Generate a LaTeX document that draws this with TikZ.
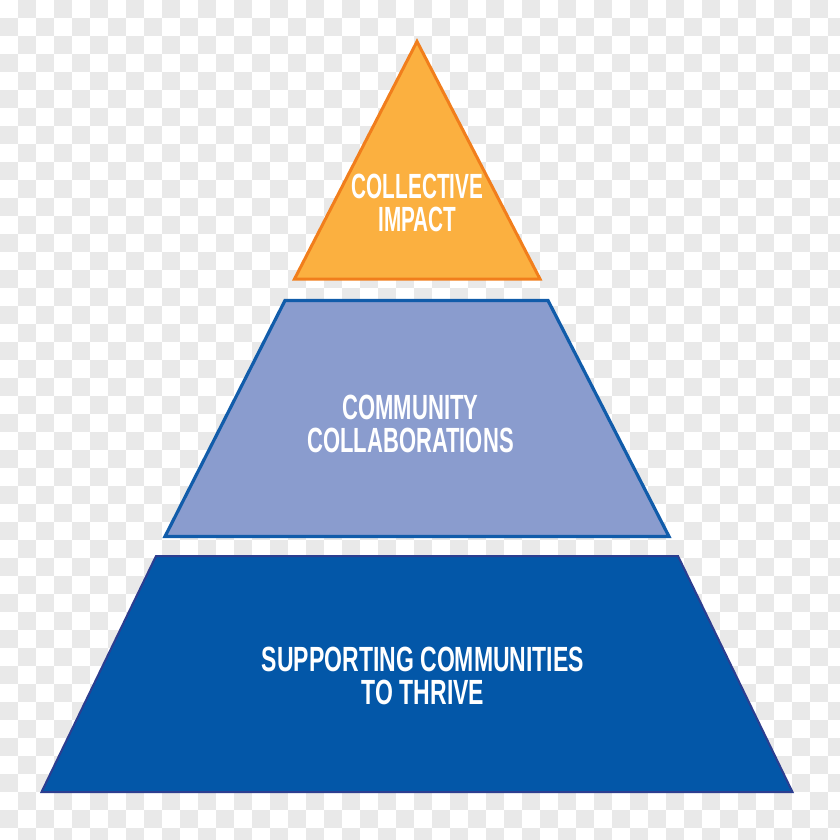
\documentclass[tikz,border=0pt]{standalone}
\usepackage{fontspec}
\setmainfont{Liberation Sans}
\usepackage{tikz}
\usetikzlibrary{positioning}
\definecolor{checkgray}{RGB}{233,233,233}
\definecolor{apexfill}{RGB}{251,176,64}
\definecolor{apexline}{RGB}{241,126,28}
\definecolor{midfill}{RGB}{138,156,206}
\definecolor{midline}{RGB}{17,92,170}
\definecolor{basefill}{RGB}{3,87,168}
\definecolor{baseedge}{RGB}{44,62,144}

\begin{document}
\begin{tikzpicture}[x=1pt,y=-1pt,
    tiertext/.style={text=white, align=center, inner sep=0pt,
        font=\fontsize{35}{33}\selectfont\bfseries, xscale=0.62}]
    \useasboundingbox (0,0) rectangle (840,840);
    \begin{scope}
        \clip (0,0) rectangle (840,840);
        \foreach \i in {0,...,46}
            \foreach \j in {0,...,46}{
                \pgfmathtruncatemacro\k{\i+\j}
                \ifodd\k \fill[checkgray] (18*\i,18*\j) rectangle ++(18,18); \fi}
    \end{scope}
    \draw[apexline, fill=apexfill, line width=3pt] (417,41.5) -- (540,279) -- (294.5,279) -- cycle;
    \draw[midline, fill=midfill, line width=3.2pt] (285,300.5) -- (548,300.5) -- (669,536.5) -- (165,536.5) -- cycle;
    \draw[baseedge, fill=basefill, line width=2pt] (156,556) -- (678,556) -- (792.5,792) -- (41.5,792) -- cycle;
    \node[tiertext, xscale=0.955] (impact) at (417.5,203) {COLLECTIVE\\IMPACT};
    \node[tiertext, xscale=1.015] (collab) at (410.5,424) {COMMUNITY\\COLLABORATIONS};
    \node[tiertext, xscale=1.06] (thrive) at (423,675.5) {SUPPORTING COMMUNITIES\\TO THRIVE};
\end{tikzpicture}
\end{document}
